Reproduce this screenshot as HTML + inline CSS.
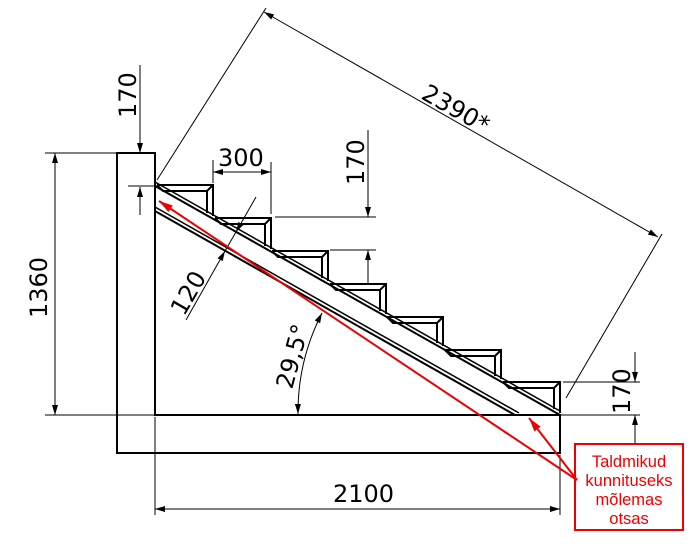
<!DOCTYPE html>
<html><head><meta charset="utf-8"><style>
html,body{margin:0;padding:0;background:#fff}
svg{display:block}
text{font-family:"DejaVu Sans","Liberation Sans",sans-serif}
</style></head><body>
<svg width="691" height="558" viewBox="0 0 691 558" xmlns="http://www.w3.org/2000/svg">
<defs>
<marker id="a" viewBox="0 0 10 6" refX="10" refY="3" markerWidth="10" markerHeight="6" markerUnits="userSpaceOnUse" orient="auto-start-reverse"><path d="M0,0L10,3L0,6z" fill="#000"/></marker>
<marker id="r" viewBox="0 0 14 8" refX="14" refY="4" markerWidth="14" markerHeight="8" markerUnits="userSpaceOnUse" orient="auto"><path d="M0,0L14,4L0,8z" fill="#e00"/></marker>
</defs>
<g fill="none" stroke="#000" stroke-width="2">
<path d="M117,153H155V415H560V453H117Z"/>
<line x1="155" y1="186" x2="560" y2="415"/>
<line x1="155" y1="182" x2="560" y2="411" stroke-width="1.5"/>
<line x1="155" y1="211" x2="515" y2="415"/>
<line x1="155" y1="207" x2="519" y2="413" stroke-width="1.5"/>
<path d="M157,185H213V216M157,185l6,6H207V213M213,185l-6,6"/>
<path d="M215,218H271V249M215,218l6,6H265V246M271,218l-6,6"/>
<path d="M272,251H328V281M272,251l6,6H322V278M328,251l-6,6"/>
<path d="M330,284H386V314M330,284l6,6H380V311M386,284l-6,6"/>
<path d="M387,317H443V346M387,317l6,6H437V343M443,317l-6,6"/>
<path d="M445,350H501V379M445,350l6,6H495V376M501,350l-6,6"/>
<path d="M503,382H560V413M503,382l6,6H554V409M560,382l-6,6"/>
</g>
<g fill="none" stroke="#000" stroke-width="1">
<line x1="140" y1="65" x2="140" y2="153" marker-end="url(#a)"/>
<line x1="140" y1="215" x2="140" y2="187" marker-end="url(#a)"/>
<line x1="128" y1="186" x2="155" y2="186"/>
<line x1="45" y1="153" x2="117" y2="153"/>
<line x1="45" y1="415" x2="155" y2="415"/>
<line x1="55" y1="153" x2="55" y2="415" marker-start="url(#a)" marker-end="url(#a)"/>
<line x1="213" y1="160" x2="213" y2="183"/>
<line x1="271" y1="162" x2="271" y2="214"/>
<line x1="213" y1="172" x2="271" y2="172" marker-start="url(#a)" marker-end="url(#a)"/>
<line x1="275" y1="217" x2="376" y2="217"/>
<line x1="330" y1="250" x2="376" y2="250"/>
<line x1="368" y1="130" x2="368" y2="217" marker-end="url(#a)"/>
<line x1="368" y1="285" x2="368" y2="250" marker-end="url(#a)"/>
<!-- 120 -->
<line x1="256" y1="197" x2="236" y2="232" marker-end="url(#a)"/>
<line x1="236" y1="232" x2="225" y2="251"/>
<line x1="186" y1="320" x2="225" y2="251" marker-end="url(#a)"/>
<line x1="157" y1="180" x2="266" y2="8"/>
<line x1="566" y1="398" x2="662" y2="234"/>
<line x1="264" y1="12" x2="658" y2="237" marker-start="url(#a)" marker-end="url(#a)"/>
<path d="M298,414 A218,218 0 0 1 322,313" marker-start="url(#a)" marker-end="url(#a)"/>
<line x1="563" y1="382" x2="640" y2="382"/>
<line x1="560" y1="415" x2="640" y2="415"/>
<line x1="635" y1="352" x2="635" y2="382" marker-end="url(#a)"/>
<line x1="635" y1="445" x2="635" y2="415" marker-end="url(#a)"/>
<line x1="155" y1="417" x2="155" y2="515"/>
<line x1="560" y1="455" x2="560" y2="515"/>
<line x1="155" y1="509" x2="560" y2="509" marker-start="url(#a)" marker-end="url(#a)"/>
</g>
<g font-size="24" fill="#000">
<text transform="translate(136,118) rotate(-90)">170</text>
<text transform="translate(47,318) rotate(-90)">1360</text>
<text x="218" y="166">300</text>
<text transform="translate(364,185) rotate(-90)">170</text>
<text transform="translate(184,317) rotate(-60)">120</text>
<text transform="translate(420,98) rotate(29.5)">2390*</text>
<text transform="translate(292,390) rotate(-75)">29,5°</text>
<text transform="translate(630,414) rotate(-90)">170</text>
<text x="333" y="502">2100</text>
</g>
<g stroke="#e00" stroke-width="2" fill="none">
<line x1="577" y1="480" x2="159" y2="201" marker-end="url(#r)"/>
<line x1="577" y1="480" x2="529" y2="418" marker-end="url(#r)"/>
<rect x="575" y="444" width="108" height="86"/>
</g>
<g font-size="16.5" fill="#e00" text-anchor="middle">
<text x="629" y="467" style="font-family:'Liberation Sans',sans-serif">Taldmikud</text>
<text x="629" y="486" style="font-family:'Liberation Sans',sans-serif">kunnituseks</text>
<text x="629" y="505" style="font-family:'Liberation Sans',sans-serif">mõlemas</text>
<text x="629" y="524" style="font-family:'Liberation Sans',sans-serif">otsas</text>
</g>
</svg>
</body></html>
